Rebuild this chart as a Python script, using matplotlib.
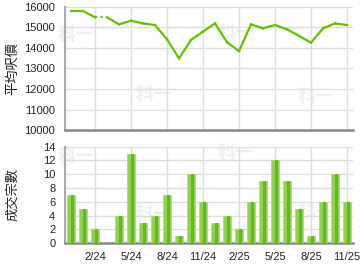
import matplotlib
matplotlib.use('Agg')
import matplotlib.pyplot as plt
import numpy as np

plt.rcParams['font.family'] = ['Liberation Sans', 'Noto Sans CJK TC', 'DejaVu Sans']

# 月份 12/23 - 11/25
months = ['12/23', '1/24', '2/24', '3/24', '4/24', '5/24', '6/24', '7/24', '8/24',
          '9/24', '10/24', '11/24', '12/24', '1/25', '2/25', '3/25', '4/25', '5/25',
          '6/25', '7/25', '8/25', '9/25', '10/25', '11/25']

# 平均呎價
avg_price = [15800, 15800, 15500, 15500, 15150, 15330, 15200, 15120, 14420, 13500,
             14390, 14800, 15200, 14280, 13850, 15150, 14960, 15120, 14910, 14590,
             14260, 14960, 15200, 15120]
# 虛線連接的月份段 (起點索引)
dotted_from = [2]

# 成交宗數
deals = [7, 5, 2, 0, 4, 13, 3, 4, 7, 1, 10, 6, 3, 4, 2, 6, 9, 12, 9, 5, 1, 6, 10, 6]

tick_months = ['2/24', '5/24', '8/24', '11/24', '2/25', '5/25', '8/25', '11/25']

line_color = '#66bf00'
grid_color = '#dddddd'

fig = plt.figure(figsize=(3.6, 2.7), dpi=100)
ax1 = fig.add_axes([0.1806, 0.5185, 0.8, 0.4556])
ax2 = fig.add_axes([0.1806, 0.0989, 0.8, 0.3578])

x = np.arange(len(months))
tick_pos = [months.index(m) for m in tick_months]

# 上圖: 平均呎價
for i in range(len(x) - 1):
    ls = (0, (1, 1.5)) if i in dotted_from else '-'
    ax1.plot(x[i:i + 2], avg_price[i:i + 2], color=line_color, lw=1.6,
             ls=ls, solid_joinstyle='round', zorder=3)

ax1.set_ylim(10000, 16000)
ax1.set_yticks(range(10000, 16001, 1000))

# 下圖: 成交宗數
ax2.bar(x, deals, width=0.74, color='#8fd24e', edgecolor='#a9e070', lw=0.6, zorder=3)
ax2.bar(x + 0.1, deals, width=0.28, color='#62b81e', lw=0, zorder=3)
ax2.set_ylim(0, 14)
ax2.set_yticks(range(0, 15, 2))

for ax in (ax1, ax2):
    ax.set_xlim(-0.5, len(months) - 0.5)
    ax.set_xticks(tick_pos)
    ax.grid(True, color=grid_color, lw=1)
    ax.set_axisbelow(True)
    ax.patch.set_alpha(0)
    for s in ('top', 'right'):
        ax.spines[s].set_visible(False)
    ax.spines['left'].set_color('#aaaaaa')
    ax.spines['left'].set_linewidth(1.5)
    ax.spines['bottom'].set_color('#888888')
    ax.spines['bottom'].set_linewidth(1.8)
    ax.tick_params(length=0, labelsize=8, colors='#222222')
    ax.tick_params(axis='y', pad=7)
    ax.tick_params(axis='x', pad=6)

ax1.set_xticklabels([])
ax2.set_xticklabels(tick_months)

ax1.set_ylabel('平均呎價', family=['Noto Sans CJK TC'], fontsize=9.5, color='#222222')
ax2.set_ylabel('成交宗數', family=['Noto Sans CJK TC'], fontsize=9.5, color='#222222')
ax1.yaxis.set_label_coords(-0.16, 0.5)
ax2.yaxis.set_label_coords(-0.16, 0.5)

# 水印
for wx, wy in [(76, 34), (154, 94), (236, 33), (316, 96),
               (76, 157), (154, 215), (236, 153), (316, 212)]:
    fig.text(wx / 360, 1 - wy / 270, '科一', family=['Noto Sans CJK TC'],
             fontsize=13, fontweight='bold', color='#efefef',
             ha='center', va='center', zorder=-1)

fig.savefig('out.png', dpi=100)
